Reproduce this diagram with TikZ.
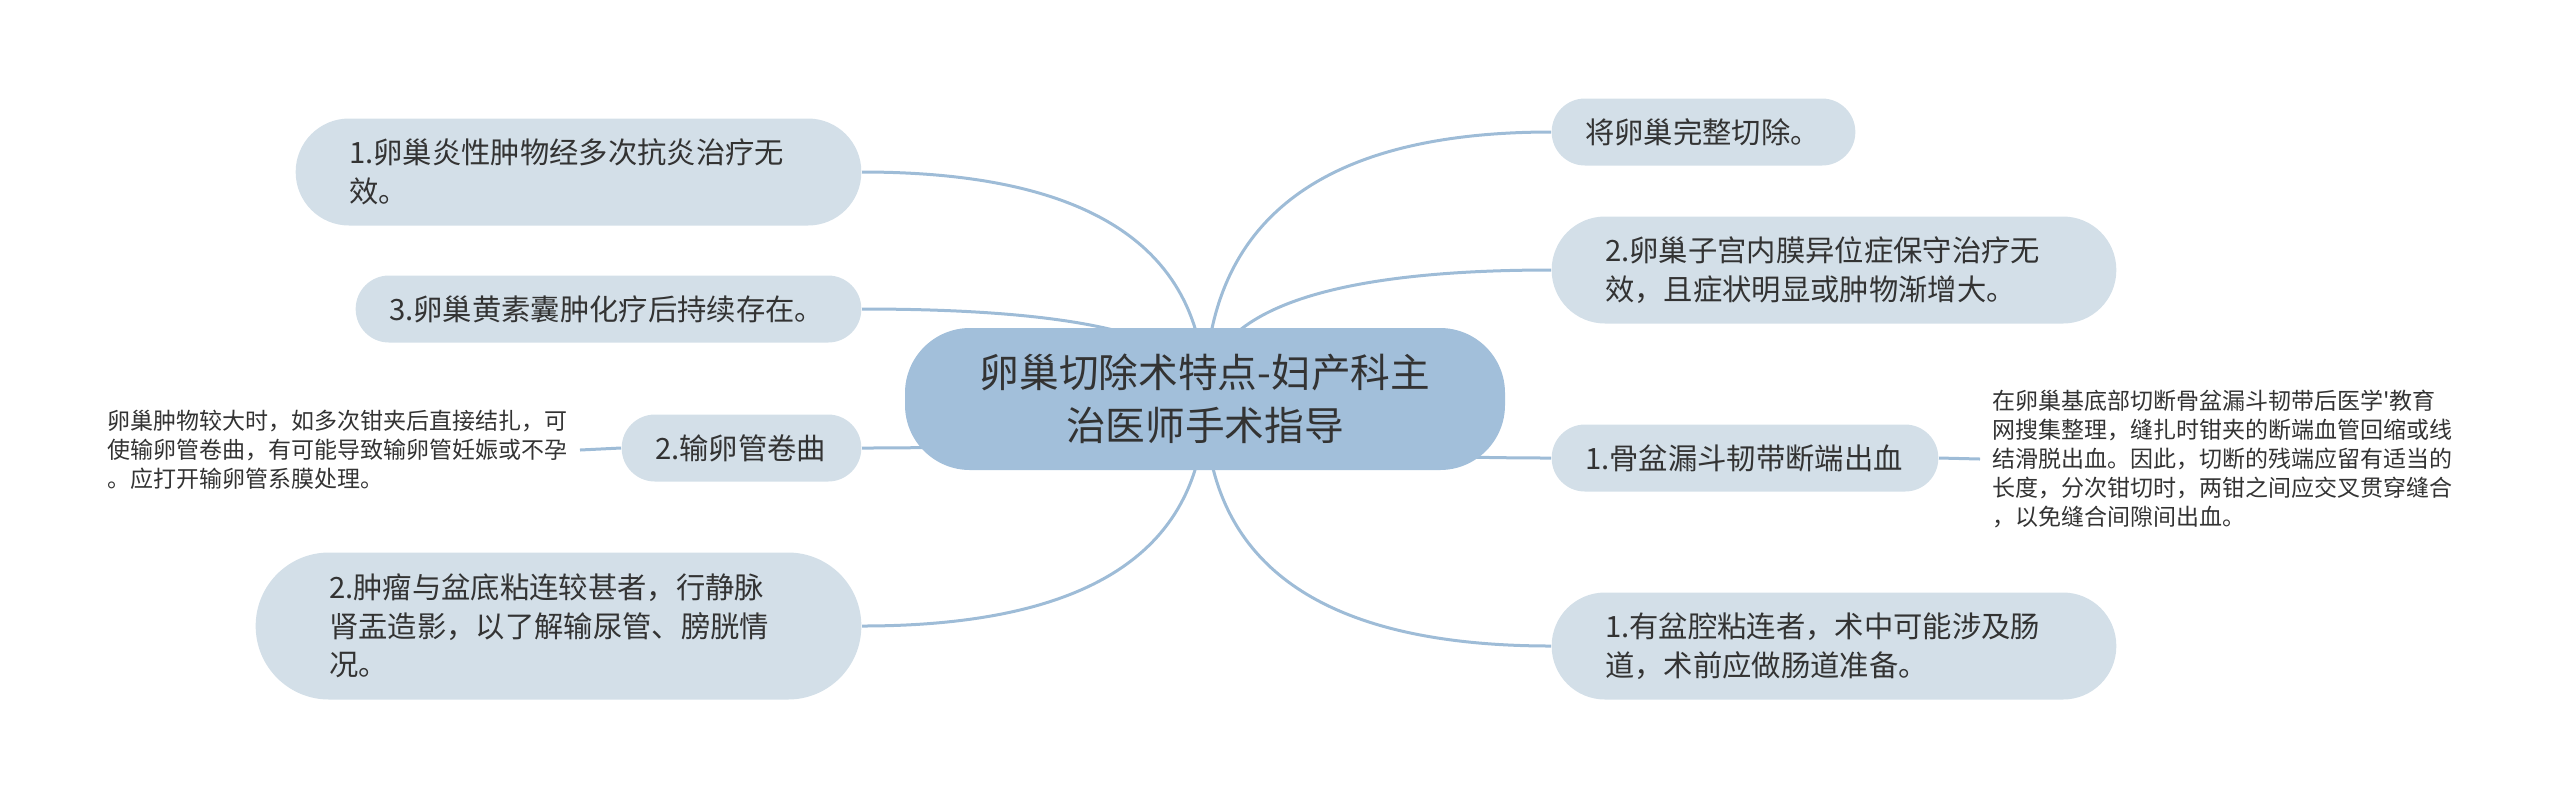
\documentclass[tikz,border=0pt]{standalone}
\usepackage{fontspec}
\setmainfont{Noto Sans CJK SC}
\usetikzlibrary{calc}
\usetikzlibrary{backgrounds}

\definecolor{rootfill}{RGB}{162,191,218}
\definecolor{topicfill}{RGB}{211,223,232}
\definecolor{branchline}{RGB}{158,188,215}
\definecolor{inkgray}{RGB}{51,51,51}

\newcommand{\rootfont}{\fontsize{11.9}{16}\selectfont}
\newcommand{\topicfont}{\fontsize{8.8}{11.6}\selectfont}
\newcommand{\notefont}{\fontsize{6.9}{8.7}\selectfont}

\tikzset{
  rootbox/.style={rectangle,rounded corners=19.5pt,fill=rootfill,text=inkgray,font=\rootfont,
    align=center,minimum width=180pt,minimum height=42.6pt,inner sep=0pt},
  topic/.style={rectangle,fill=topicfill,text=inkgray,font=\topicfont,align=left,
    inner ysep=0pt,text width=#1},
  oneline/.style={minimum height=20.1pt,inner xsep=10pt,rounded corners=10pt},
  twoline/.style={minimum height=32.1pt,inner xsep=16pt,rounded corners=16pt},
  threeline/.style={minimum height=44.1pt,inner xsep=22pt,rounded corners=22pt},
  note/.style={text=inkgray,font=\notefont,align=left,inner xsep=3.5pt,inner ysep=0pt},
  branch/.style={draw=branchline,line width=0.9pt}
}

\begin{document}
\begin{tikzpicture}[x=0.3pt,y=-0.3pt]
            \useasboundingbox (0,0) rectangle (2560,799);
            \node[rootbox] (root) at (1205,399) {卵巢切除术特点-妇产科主\\治医师手术指导};
            % left side
            \node[topic=137.7pt,twoline,anchor=east] (l1) at (862,172) {1.卵巢炎性肿物经多次抗炎治疗无\\效。};
            \node[topic=131.7pt,oneline,anchor=east] (l2) at (862,309) {3.卵巢黄素囊肿化疗后持续存在。};
            \node[topic=51.9pt,oneline,anchor=east] (l3) at (862,448) {2.输卵管卷曲};
            \node[topic=137.7pt,threeline,anchor=east] (l4) at (862,626) {2.肿瘤与盆底粘连较甚者，行静脉\\肾盂造影，以了解输尿管、膀胱情\\况。};
            \node[note,anchor=east] (l3note) at (580,450) {卵巢肿物较大时，如多次钳夹后直接结扎，可\\使输卵管卷曲，有可能导致输卵管妊娠或不孕\\。应打开输卵管系膜处理。};
            % right side
            \node[topic=71.1pt,oneline,anchor=west] (r1) at (1551,132) {将卵巢完整切除。};
            \node[topic=137.4pt,twoline,anchor=west] (r2) at (1551,270) {2.卵巢子宫内膜异位症保守治疗无\\效，且症状明显或肿物渐增大。};
            \node[topic=96pt,oneline,anchor=west] (r3) at (1551,458) {1.骨盆漏斗韧带断端出血};
            \node[topic=137.4pt,twoline,anchor=west] (r4) at (1551,646) {1.有盆腔粘连者，术中可能涉及肠\\道，术前应做肠道准备。};
            \node[note,anchor=west] (r3note) at (1980,459) {在卵巢基底部切断骨盆漏斗韧带后医学\textquotesingle 教育\\网搜集整理，缝扎时钳夹的断端血管回缩或线\\结滑脱出血。因此，切断的残端应留有适当的\\长度，分次钳切时，两钳之间应交叉贯穿缝合\\，以免缝合间隙间出血。};
            \begin{scope}[on background layer]
                \foreach \kid/\side in {l1/east,l2/east,l3/east,l4/east,r1/west,r2/west,r3/west,r4/west}
                    \draw[branch] (root.center) .. controls ($(root.center)!2/3!(root.center |- \kid.\side)$)
                        and ($(\kid.\side)!2/3!(root.center |- \kid.\side)$) .. (\kid.\side);
                \draw[branch] (l3.west) -- (l3note.east);
                \draw[branch] (r3.east) -- (r3note.west);
            \end{scope}
        \end{tikzpicture}
\end{document}
